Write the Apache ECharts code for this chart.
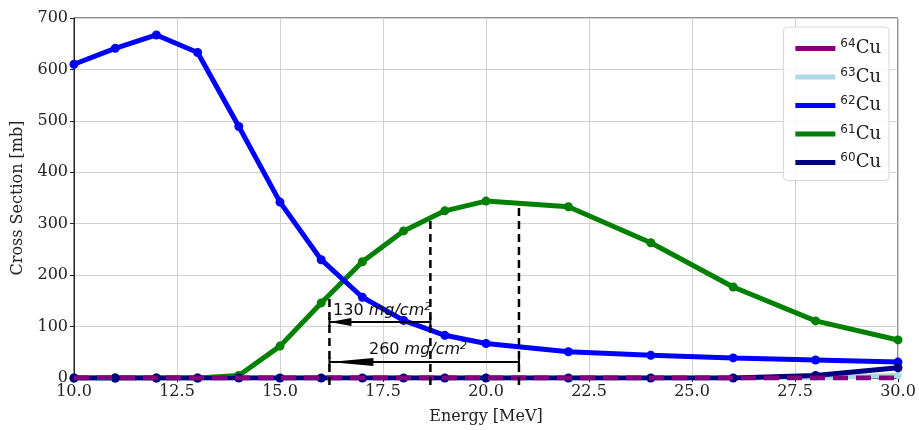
<!DOCTYPE html>
<html>
<head>
<meta charset="utf-8">
<script src="https://cdn.jsdelivr.net/npm/echarts@6/dist/echarts.min.js"></script>
<style>
html,body{margin:0;padding:0;background:#fff;}
#main{width:919px;height:430px;}
</style>
</head>
<body>
<div id="main"></div>
<script>
// energies (MeV)
var energy = [10, 11, 12, 13, 14, 15, 16, 17, 18, 19, 20, 22, 24, 26, 28, 30];
// cross sections (mb)
var cu64 = [0, 0, 0, 0, 0, 0, 0, 0, 0, 0, 0, 0, 0, 0, 0, 0];
var cu63 = [0, 0, 0, 0, 0, 0, 0, 0, 0, 0, 0, 0, 0, 0, 1, 5];
var cu62 = [610, 641, 667, 633, 489, 342, 230, 157, 112, 83, 67, 51, 44, 39, 35, 31];
var cu61 = [0, 0, 0, 0, 5, 62, 146, 226, 286, 325, 344, 333, 263, 177, 111, 74];
var cu60 = [0, 0, 0, 0, 0, 0, 0, 0, 0, 0, 0, 0, 0, 0, 5, 20];

// annotation: vertical dashed lines
var vlineX = [16.2, 18.65, 20.8];
var vlineTop = [160, 308, 336];
// annotation: arrows (from -> to, at height y)
var arrowFrom = [18.65, 20.8];
var arrowTo = [16.2, 16.2];
var arrowY = [109, 31];
var arrowLabel = ['130', '260'];
var labelX = [17.48, 18.35];
var labelY = [130, 54];

var names = ['64Cu', '63Cu', '62Cu', '61Cu', '60Cu'];
var supers = {'64Cu': '64', '63Cu': '63', '62Cu': '62', '61Cu': '61', '60Cu': '60'};

function pairs(ys) {
  return energy.map(function (x, i) { return [x, ys[i]]; });
}

var serif = '"DejaVu Serif", serif';

var chart = echarts.init(document.getElementById('main'), null, {renderer: 'canvas'});

function lineSeries(name, data, color, extra) {
  var s = {
    name: name,
    type: 'line',
    data: pairs(data),
    symbol: 'circle',
    symbolSize: 9,
    showSymbol: true,
    animation: false,
    lineStyle: {width: 5, color: color},
    itemStyle: {color: color},
    emphasis: {disabled: true}
  };
  for (var k in extra) s[k] = extra[k];
  return s;
}

var option = {
  animation: false,
  grid: {left: 74, right: 21, top: 18, bottom: 52, show: true, borderColor: '#222', borderWidth: 1},
  legend: {
    data: names,
    orient: 'vertical',
    right: 30,
    top: 27,
    icon: 'rect',
    itemWidth: 40,
    itemHeight: 5,
    itemGap: 9,
    padding: [11, 8, 9, 12],
    borderColor: '#d6d6d6',
    borderWidth: 1,
    borderRadius: 4,
    backgroundColor: 'rgba(255,255,255,0.85)',
    formatter: function (n) { return '{s|' + supers[n] + '}{c|Cu}'; },
    textStyle: {
      color: '#222',
      rich: {
        s: {fontFamily: 'DejaVu Sans', fontSize: 12, padding: [0, 0, 9, 0], color: '#222'},
        c: {fontFamily: serif, fontSize: 18, color: '#222'}
      }
    }
  },
  xAxis: {
    type: 'value',
    min: 10, max: 30, interval: 2.5,
    name: 'Energy [MeV]',
    nameLocation: 'middle',
    nameGap: 31,
    nameTextStyle: {fontFamily: serif, fontSize: 16, color: '#222'},
    axisLine: {show: true, lineStyle: {color: '#222', width: 1}},
    axisTick: {show: true, length: 4, lineStyle: {color: '#222'}},
    axisLabel: {fontFamily: serif, fontSize: 16, color: '#222', margin: 6,
      formatter: function (v) { return v.toFixed(1); }},
    splitLine: {show: true, lineStyle: {color: '#d0d0d0', width: 1}}
  },
  yAxis: {
    type: 'value',
    min: 0, max: 700, interval: 100,
    name: 'Cross Section [mb]',
    nameLocation: 'middle',
    nameGap: 48,
    nameTextStyle: {fontFamily: serif, fontSize: 16, color: '#222'},
    axisLine: {show: true, lineStyle: {color: '#222', width: 1}},
    axisTick: {show: true, length: 4, lineStyle: {color: '#222'}},
    axisLabel: {fontFamily: serif, fontSize: 16, color: '#222', margin: 6},
    splitLine: {show: true, lineStyle: {color: '#d0d0d0', width: 1}}
  },
  series: [
    lineSeries('61Cu', cu61, '#008000', {z: 2}),
    lineSeries('62Cu', cu62, '#0000ff', {z: 3}),
    lineSeries('63Cu', cu63, '#add8e6', {z: 4, symbolSize: 7}),
    lineSeries('60Cu', cu60, '#000080', {z: 5}),
    lineSeries('64Cu', cu64, '#800080', {z: 6, showSymbol: false, symbol: 'none',
      lineStyle: {width: 5, color: '#800080', type: [15, 8]}}),
    {
      type: 'custom',
      name: 'vlines',
      z: 7,
      clip: false,
      data: vlineX.map(function (x, i) { return [x, vlineTop[i]]; }),
      renderItem: function (params, api) {
        var p0 = api.coord([api.value(0), 0]);
        var p1 = api.coord([api.value(0), api.value(1)]);
        return {
          type: 'line',
          shape: {x1: p0[0], y1: p0[1] + 7, x2: p1[0], y2: p1[1]},
          style: {stroke: '#000', lineWidth: 2.5, lineDash: [8, 5]}
        };
      }
    },
    {
      type: 'custom',
      name: 'arrows',
      z: 8,
      clip: false,
      data: arrowFrom.map(function (x, i) { return [x, arrowTo[i], arrowY[i]]; }),
      renderItem: function (params, api) {
        var a = api.coord([api.value(0), api.value(2)]);
        var b = api.coord([api.value(1), api.value(2)]);
        var head = params.dataIndex === 0 ? 22 : 44;
        return {
          type: 'group',
          children: [
            {type: 'line', shape: {x1: a[0], y1: a[1], x2: b[0], y2: b[1]},
              style: {stroke: '#000', lineWidth: 2}},
            {type: 'line', shape: {x1: a[0], y1: a[1] - 5, x2: a[0], y2: a[1] + 5},
              style: {stroke: '#000', lineWidth: 2}},
            {type: 'line', shape: {x1: b[0], y1: b[1] - 5, x2: b[0], y2: b[1] + 5},
              style: {stroke: '#000', lineWidth: 2}},
            {type: 'polygon', shape: {points: [[b[0], b[1]], [b[0] + head, b[1] - 4], [b[0] + head, b[1] + 4]]},
              style: {fill: '#000'}}
          ]
        };
      }
    },
    {
      type: 'custom',
      name: 'labels',
      z: 9,
      clip: false,
      data: labelX.map(function (x, i) { return [x, labelY[i], i]; }),
      renderItem: function (params, api) {
        var p = api.coord([api.value(0), api.value(1)]);
        var t = arrowLabel[params.dataIndex];
        return {
          type: 'text',
          x: p[0], y: p[1],
          style: {
            text: '{n|' + t + ' }{i|mg/cm}{s|2}',
            align: 'center',
            verticalAlign: 'middle',
            rich: {
              n: {fontFamily: 'DejaVu Sans', fontSize: 16, fill: '#111'},
              i: {fontFamily: 'DejaVu Sans', fontStyle: 'italic', fontSize: 16, fill: '#111'},
              s: {fontFamily: 'DejaVu Sans', fontStyle: 'italic', fontSize: 11, fill: '#111', padding: [0, 0, 9, 0]}
            }
          }
        };
      }
    }
  ]
};

chart.setOption(option);
</script>
</body>
</html>
